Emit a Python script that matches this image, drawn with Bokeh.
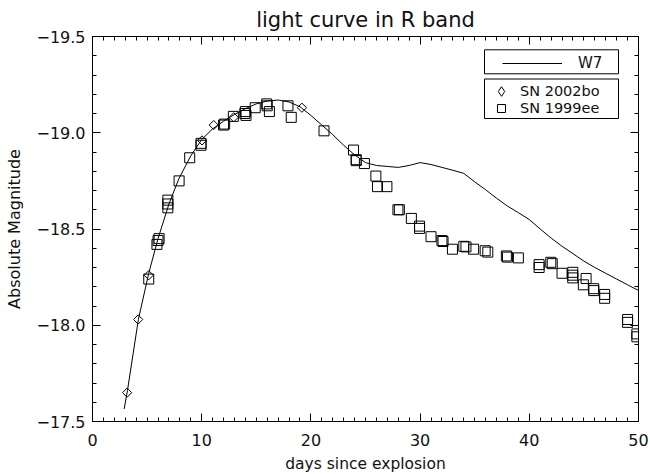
import math
from bokeh.plotting import figure
from bokeh.models import (Range1d, FixedTicker, LinearAxis, Legend, LegendItem,
                          BoxAnnotation)
from bokeh.embed import file_html
from bokeh.resources import INLINE

FONT = "DejaVu Sans"
TXT = "#111111"

# ---- data ----
w7_day = [2.9, 3.2, 4.2, 5.15, 6.0, 7.0, 7.9, 9.0, 10.0, 11.0, 12.0, 13.0, 14.0, 15.0,
          16.0, 17.0, 18.0, 19.0, 20.0, 21.0, 22.0, 23.0, 24.0, 25.0, 26.0, 27.0, 28.0,
          29.0, 30.0, 31.0, 32.0, 33.0, 34.0, 35.0, 36.0, 37.0, 38.0, 39.0, 40.0, 41.0,
          42.0, 43.0, 44.0, 45.0, 46.0, 47.0, 48.0, 49.0, 50.0]
w7_mag = [-17.565, -17.66, -18.03, -18.27, -18.45, -18.63, -18.76, -18.88, -18.965,
          -19.02, -19.06, -19.095, -19.125, -19.15, -19.165, -19.17, -19.16, -19.135,
          -19.09, -19.04, -18.99, -18.935, -18.885, -18.845, -18.83, -18.825, -18.82,
          -18.83, -18.845, -18.835, -18.82, -18.805, -18.789, -18.745, -18.704, -18.66,
          -18.619, -18.585, -18.549, -18.50, -18.453, -18.41, -18.372, -18.333, -18.30,
          -18.27, -18.24, -18.21, -18.181]

sn2002bo_day = [3.17, 4.18, 5.15, 10.03, 11.1, 12.93, 19.18]
sn2002bo_mag = [-17.65, -18.03, -18.26, -18.96, -19.04, -19.08, -19.13]

sn1999ee_day = [5.15, 5.9, 6.0, 6.1, 6.9, 6.9, 6.9, 7.93, 8.9, 9.94, 9.94, 12.0, 12.1,
                12.9, 13.95, 14.06, 14.0, 14.9, 15.95, 16.0, 16.2, 17.9, 18.2, 21.2,
                23.9, 24.15, 24.15, 24.9, 25.95, 26.1, 26.96, 27.97, 28.1, 29.2, 29.95,
                29.95, 31.0, 32.0, 32.1, 32.96, 34.0, 34.2, 34.9, 35.96, 36.2, 37.9, 38.0,
                39.0, 40.9, 40.9, 41.97, 42.1, 43.0, 43.98, 43.98, 43.98, 45.2, 44.95,
                45.9, 45.9, 46.9, 46.9, 49.0, 49.0, 49.85, 49.85]
sn1999ee_mag = [-18.24, -18.42, -18.44, -18.45, -18.61, -18.63, -18.65, -18.75, -18.87,
                -18.935, -18.945, -19.04, -19.045, -19.085, -19.10, -19.09, -19.11,
                -19.13, -19.15, -19.14, -19.11, -19.14, -19.08, -19.01, -18.91, -18.86,
                -18.855, -18.84, -18.775, -18.72, -18.72, -18.60, -18.60, -18.555,
                -18.515, -18.503, -18.46, -18.44, -18.435, -18.395, -18.41, -18.407,
                -18.395, -18.387, -18.38, -18.36, -18.354, -18.35, -18.315, -18.30,
                -18.327, -18.32, -18.27, -18.275, -18.26, -18.246, -18.243, -18.21,
                -18.19, -18.18, -18.16, -18.14, -18.03, -18.015, -17.955, -17.94]

x_ticks = [0, 10, 20, 30, 40, 50]
x_tick_labels = ["0", "10", "20", "30", "40", "50"]
y_ticks = [-19.5, -19.0, -18.5, -18.0, -17.5]
y_tick_labels = ["\u221219.5", "\u221219.0", "\u221218.5", "\u221218.0", "\u221217.5"]

title_text = "light curve in R band"
x_label = "days since explosion"
y_label = "Absolute Magnitude"
series_names = ["W7", "SN 2002bo", "SN 1999ee"]

# ---- figure ----
p = figure(width=650, height=476, output_backend="svg", toolbar_location=None,
           x_range=Range1d(0, 50), y_range=Range1d(-17.5, -19.5),
           min_border_left=92, min_border_right=12, min_border_top=33,
           min_border_bottom=55)
p.background_fill_color = "white"
p.border_fill_color = "white"
p.outline_line_color = "black"
p.xgrid.visible = False
p.ygrid.visible = False

p.title.text = title_text
p.title.align = "center"
p.title.text_font = FONT
p.title.text_font_size = "21px"
p.title.text_font_style = "normal"
p.title.text_color = TXT

x_minor = [i for i in range(0, 51)]
y_minor = [round(-19.5 + 0.1 * i, 2) for i in range(21)]


def style_axis(ax, ticks, minor, labels=None):
    ax.ticker = FixedTicker(ticks=ticks, minor_ticks=minor)
    ax.major_tick_in = 8
    ax.major_tick_out = 0
    ax.minor_tick_in = 4
    ax.minor_tick_out = 0
    ax.axis_line_color = "black"
    ax.major_tick_line_color = "black"
    ax.minor_tick_line_color = "black"
    ax.major_label_text_font = FONT
    if labels is None:
        ax.major_label_text_font_size = "1px"
        ax.major_label_text_color = None
        ax.major_label_standoff = 0
    else:
        ax.major_label_text_color = TXT
        ax.major_label_text_font_size = "16px"
        ax.major_label_overrides = {t: l for t, l in zip(ticks, labels)}


xa = p.xaxis[0]
style_axis(xa, x_ticks, x_minor, x_tick_labels)
xa.major_label_standoff = 12
xa.axis_label = x_label
xa.axis_label_text_font = FONT
xa.axis_label_text_font_size = "15.5px"
xa.axis_label_text_font_style = "normal"
xa.axis_label_text_color = TXT
xa.axis_label_standoff = 6

ya = p.yaxis[0]
style_axis(ya, y_ticks, y_minor, y_tick_labels)
ya.major_label_standoff = 7
ya.axis_label = y_label
ya.axis_label_text_font = FONT
ya.axis_label_text_font_size = "16px"
ya.axis_label_text_font_style = "normal"
ya.axis_label_text_color = TXT
ya.axis_label_standoff = 9

ax_top = LinearAxis()
style_axis(ax_top, x_ticks, x_minor)
p.add_layout(ax_top, "above")
ax_right = LinearAxis()
style_axis(ax_right, y_ticks, y_minor)
p.add_layout(ax_right, "right")

# ---- glyphs ----
r_w7 = p.line(w7_day, w7_mag, line_color="black", line_width=1)
r_bo = p.scatter(sn2002bo_day, sn2002bo_mag, marker="square", angle=math.pi / 4,
                 size=6.5, fill_color=None, line_color="black", line_width=1)
r_ee = p.scatter(sn1999ee_day, sn1999ee_mag, marker="square", size=10,
                 fill_color=None, line_color="black", line_width=1)
# hidden twin of the SN 2002bo points, used only for the legend's diamond key
r_bo_key = p.scatter(sn2002bo_day, sn2002bo_mag, marker="diamond", fill_color=None,
                     line_color="black", line_width=1, visible=False)

# ---- legends ----
box_kw = dict(left_units="screen", right_units="screen", top_units="screen",
              bottom_units="screen", fill_alpha=0, line_color="black",
              line_width=1, line_alpha=1)
p.add_layout(BoxAnnotation(left=392, right=526, top=371.7, bottom=347.7, **box_kw))
p.add_layout(BoxAnnotation(left=392, right=526, top=342.5, bottom=303, **box_kw))

leg_kw = dict(padding=0, margin=0, spacing=0, border_line_color=None,
              background_fill_alpha=0, inactive_fill_alpha=0,
              label_text_font=FONT, label_text_color=TXT)
leg1 = Legend(items=[LegendItem(label=series_names[0], renderers=[r_w7])],
              location=(410, 349), glyph_width=60, glyph_height=18,
              label_height=18, label_standoff=16, label_text_font_size="15px",
              **leg_kw)
leg2a = Legend(items=[LegendItem(label=series_names[1], renderers=[r_bo_key])],
               location=(397, 318.5), glyph_width=24, glyph_height=24,
               label_height=24, label_standoff=7, label_text_font_size="14.5px",
               **leg_kw)
leg2b = Legend(items=[LegendItem(label=series_names[2], renderers=[r_ee])],
               location=(399, 303.5), glyph_width=20, glyph_height=20,
               label_height=20, label_standoff=9, label_text_font_size="14.5px",
               **leg_kw)
p.add_layout(leg1)
p.add_layout(leg2a)
p.add_layout(leg2b)

open("out.html", "w").write(file_html(p, INLINE))
